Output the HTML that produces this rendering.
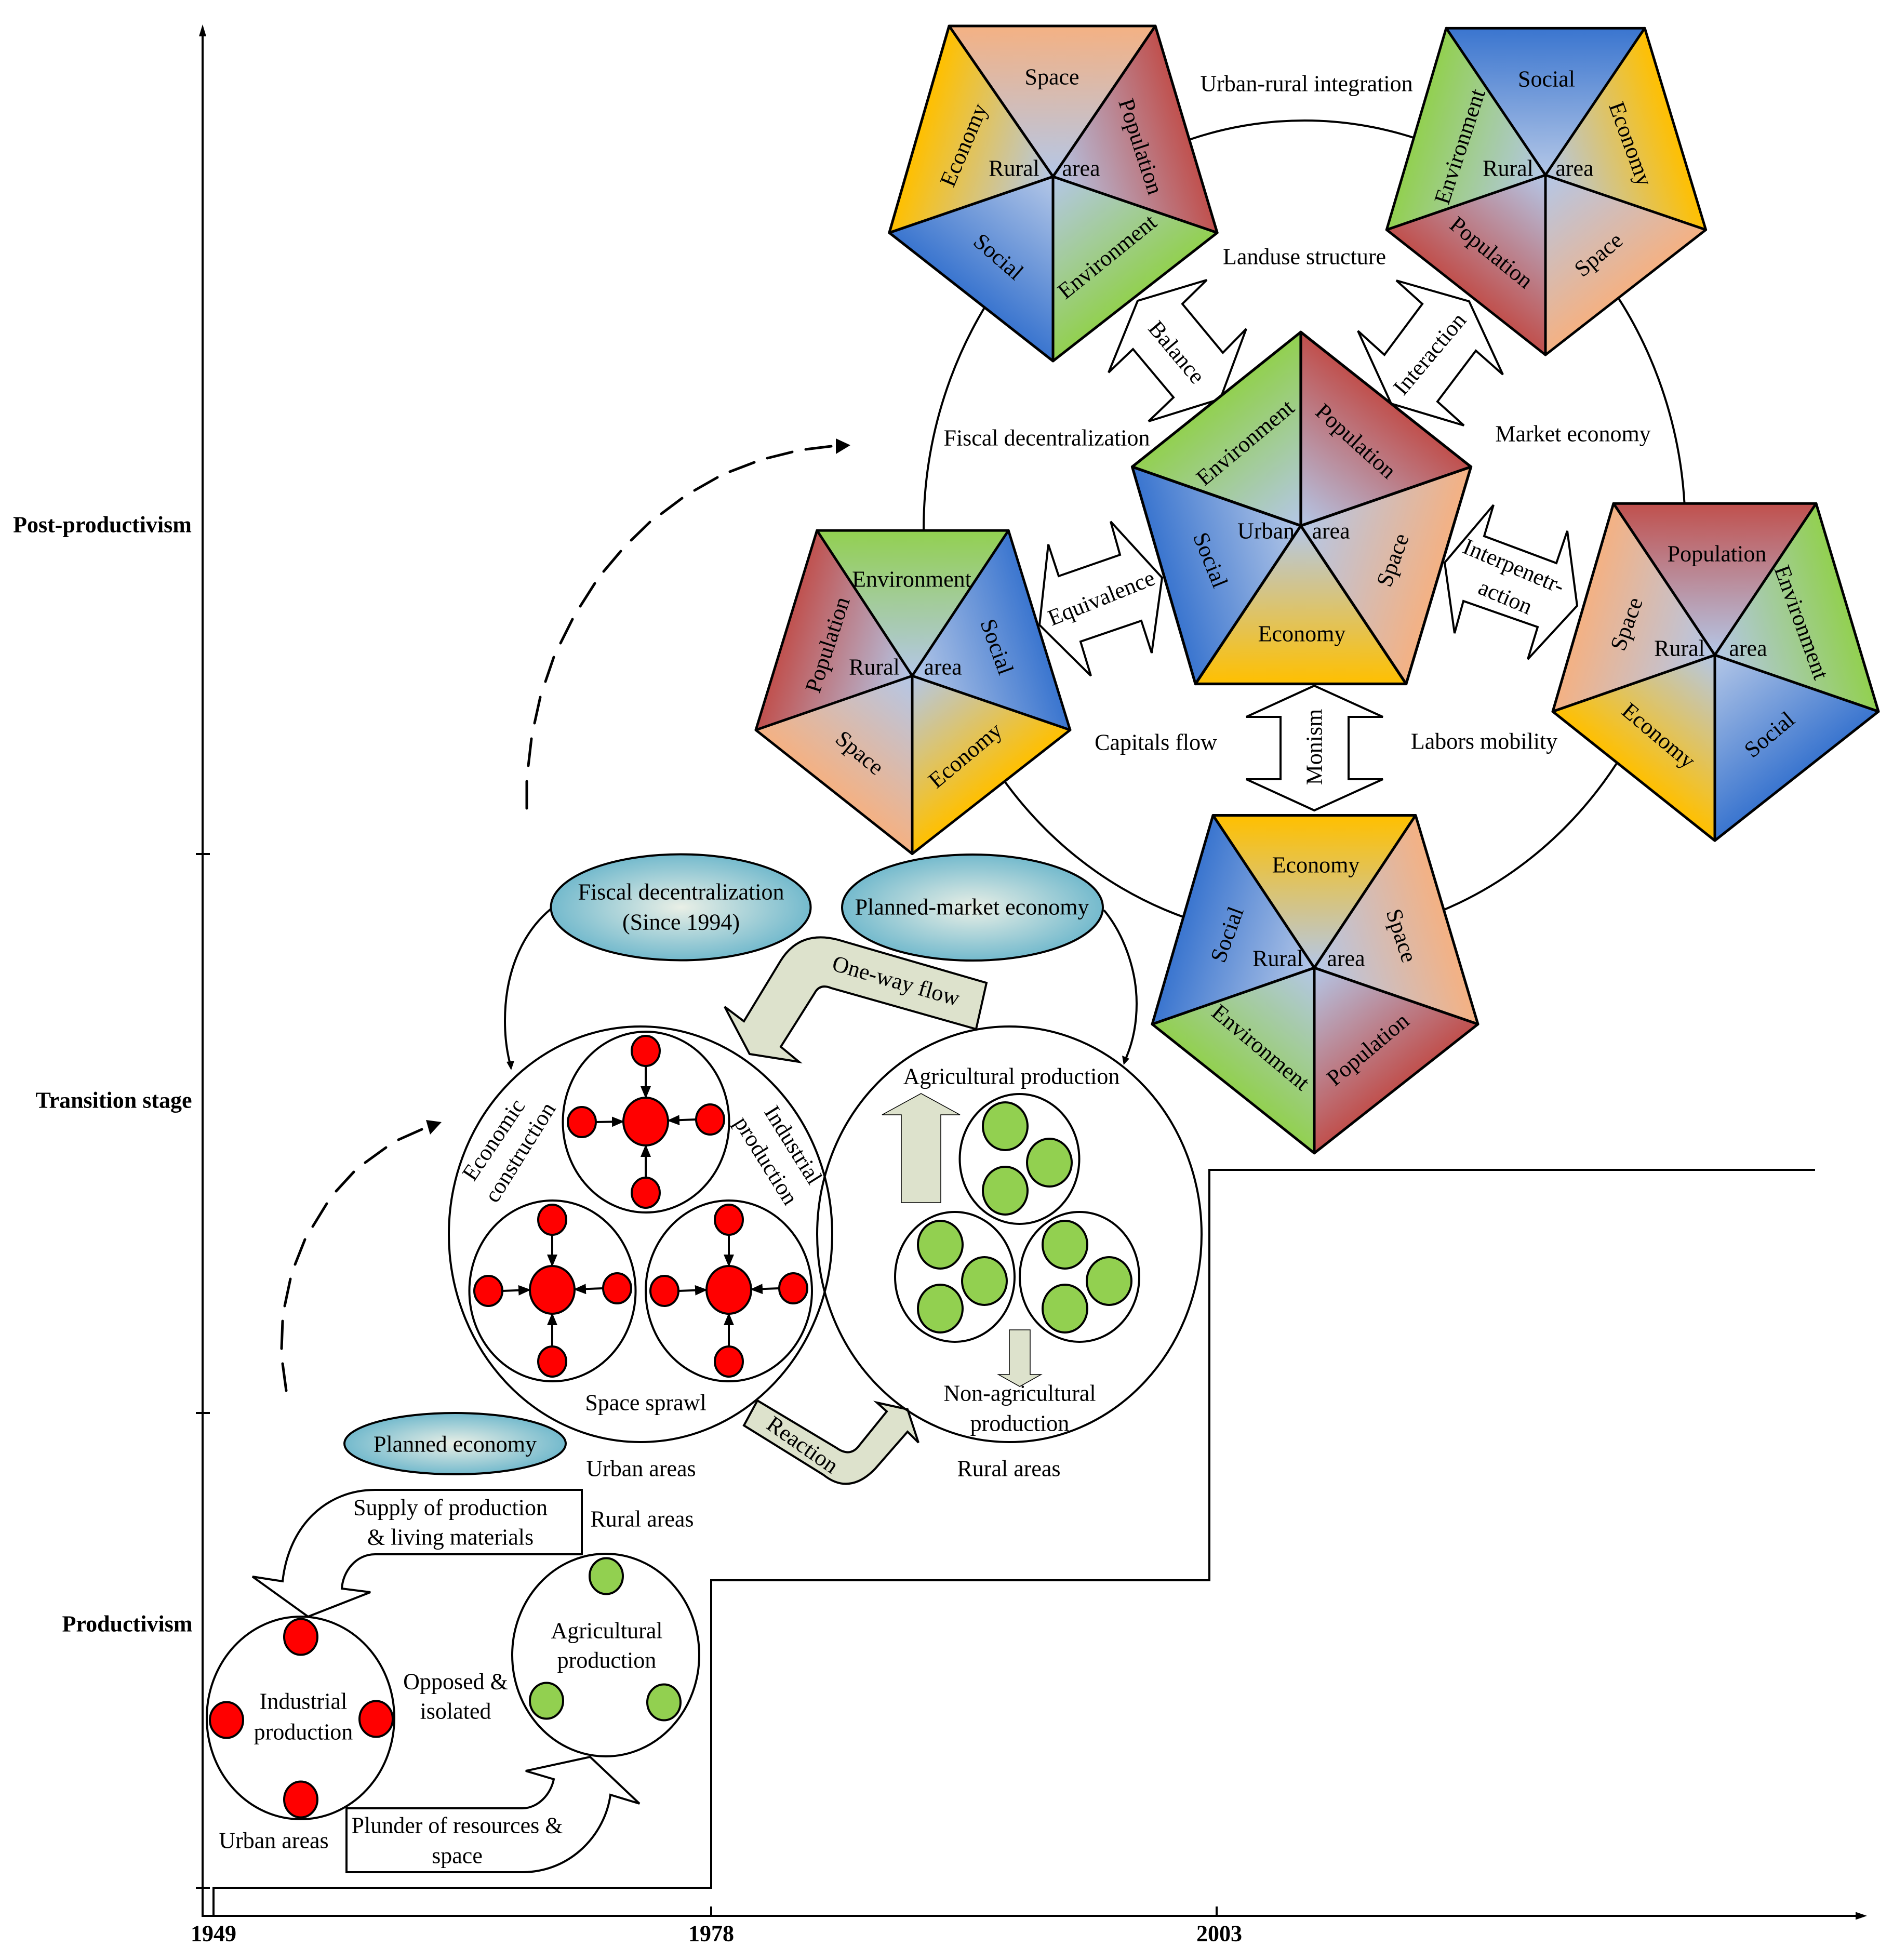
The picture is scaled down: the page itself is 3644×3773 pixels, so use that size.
<!DOCTYPE html>
<html><head><meta charset="utf-8"><style>
html,body{margin:0;padding:0;background:#fff}
svg{display:block}
text{font-family:"Liberation Serif",serif;font-size:44px;text-anchor:middle;dominant-baseline:central;fill:#000}
.b{font-weight:bold}
.w{fill:#fff;stroke:#000;stroke-width:4;stroke-linejoin:miter}
.n{fill:none;stroke:#000;stroke-width:4}
.s{fill:#dde2cc;stroke:#000;stroke-width:4}
.r{fill:#f00;stroke:#000;stroke-width:4}
.g{fill:#92d050;stroke:#000;stroke-width:4}
.a{fill:none;stroke:#000;stroke-width:4;marker-end:url(#ah)}
.p polygon{stroke:#000;stroke-width:5;stroke-linejoin:round}
.d{fill:none;stroke:#000;stroke-width:5;stroke-linecap:round}
</style></head><body>
<svg xmlns="http://www.w3.org/2000/svg" width="3644" height="3773" viewBox="0 0 3644 3773">
<defs>
<marker id="ah" markerUnits="userSpaceOnUse" markerWidth="24" markerHeight="20" refX="22" refY="10" orient="auto"><path d="M0 0L24 10L0 20Z" fill="#000"/></marker>
<radialGradient id="tl" cx=".5" cy=".5" r=".5"><stop offset="0" stop-color="#e9efe6"/><stop offset="1" stop-color="#74bacd"/></radialGradient>

<linearGradient id="TSpa" gradientUnits="userSpaceOnUse" x1="0" y1="-290" x2="0" y2="0"><stop offset="0" stop-color="#f4b183"/><stop offset="1" stop-color="#b4c7e7"/></linearGradient>
<linearGradient id="TSoc" gradientUnits="userSpaceOnUse" x1="0" y1="-290" x2="0" y2="0"><stop offset="0" stop-color="#3a75cf"/><stop offset="1" stop-color="#b4c7e7"/></linearGradient>
<linearGradient id="TEnv" gradientUnits="userSpaceOnUse" x1="0" y1="-290" x2="0" y2="0"><stop offset="0" stop-color="#92d050"/><stop offset="1" stop-color="#b4c7e7"/></linearGradient>
<linearGradient id="TPop" gradientUnits="userSpaceOnUse" x1="0" y1="-290" x2="0" y2="0"><stop offset="0" stop-color="#c0504d"/><stop offset="1" stop-color="#b4c7e7"/></linearGradient>
<linearGradient id="TEco" gradientUnits="userSpaceOnUse" x1="0" y1="-290" x2="0" y2="0"><stop offset="0" stop-color="#ffc000"/><stop offset="1" stop-color="#b4c7e7"/></linearGradient>

<linearGradient id="RPop" gradientUnits="userSpaceOnUse" x1="259" y1="-78" x2="0" y2="0"><stop offset="0" stop-color="#c0504d"/><stop offset="1" stop-color="#b4c7e7"/></linearGradient>
<linearGradient id="REco" gradientUnits="userSpaceOnUse" x1="259" y1="-78" x2="0" y2="0"><stop offset="0" stop-color="#ffc000"/><stop offset="1" stop-color="#b4c7e7"/></linearGradient>
<linearGradient id="RSoc" gradientUnits="userSpaceOnUse" x1="259" y1="-78" x2="0" y2="0"><stop offset="0" stop-color="#3a75cf"/><stop offset="1" stop-color="#b4c7e7"/></linearGradient>
<linearGradient id="REnv" gradientUnits="userSpaceOnUse" x1="259" y1="-78" x2="0" y2="0"><stop offset="0" stop-color="#92d050"/><stop offset="1" stop-color="#b4c7e7"/></linearGradient>
<linearGradient id="RSpa" gradientUnits="userSpaceOnUse" x1="259" y1="-78" x2="0" y2="0"><stop offset="0" stop-color="#f4b183"/><stop offset="1" stop-color="#b4c7e7"/></linearGradient>

<linearGradient id="BREnv" gradientUnits="userSpaceOnUse" x1="172" y1="220" x2="0" y2="0"><stop offset="0" stop-color="#92d050"/><stop offset="1" stop-color="#b4c7e7"/></linearGradient>
<linearGradient id="BRSpa" gradientUnits="userSpaceOnUse" x1="172" y1="220" x2="0" y2="0"><stop offset="0" stop-color="#f4b183"/><stop offset="1" stop-color="#b4c7e7"/></linearGradient>
<linearGradient id="BREco" gradientUnits="userSpaceOnUse" x1="172" y1="220" x2="0" y2="0"><stop offset="0" stop-color="#ffc000"/><stop offset="1" stop-color="#b4c7e7"/></linearGradient>
<linearGradient id="BRSoc" gradientUnits="userSpaceOnUse" x1="172" y1="220" x2="0" y2="0"><stop offset="0" stop-color="#3a75cf"/><stop offset="1" stop-color="#b4c7e7"/></linearGradient>
<linearGradient id="BRPop" gradientUnits="userSpaceOnUse" x1="172" y1="220" x2="0" y2="0"><stop offset="0" stop-color="#c0504d"/><stop offset="1" stop-color="#b4c7e7"/></linearGradient>

<linearGradient id="BLSoc" gradientUnits="userSpaceOnUse" x1="-173" y1="218" x2="0" y2="0"><stop offset="0" stop-color="#3a75cf"/><stop offset="1" stop-color="#b4c7e7"/></linearGradient>
<linearGradient id="BLPop" gradientUnits="userSpaceOnUse" x1="-173" y1="218" x2="0" y2="0"><stop offset="0" stop-color="#c0504d"/><stop offset="1" stop-color="#b4c7e7"/></linearGradient>
<linearGradient id="BLSpa" gradientUnits="userSpaceOnUse" x1="-173" y1="218" x2="0" y2="0"><stop offset="0" stop-color="#f4b183"/><stop offset="1" stop-color="#b4c7e7"/></linearGradient>
<linearGradient id="BLEco" gradientUnits="userSpaceOnUse" x1="-173" y1="218" x2="0" y2="0"><stop offset="0" stop-color="#ffc000"/><stop offset="1" stop-color="#b4c7e7"/></linearGradient>
<linearGradient id="BLEnv" gradientUnits="userSpaceOnUse" x1="-173" y1="218" x2="0" y2="0"><stop offset="0" stop-color="#92d050"/><stop offset="1" stop-color="#b4c7e7"/></linearGradient>

<linearGradient id="LEco" gradientUnits="userSpaceOnUse" x1="-258" y1="-76" x2="0" y2="0"><stop offset="0" stop-color="#ffc000"/><stop offset="1" stop-color="#b4c7e7"/></linearGradient>
<linearGradient id="LEnv" gradientUnits="userSpaceOnUse" x1="-258" y1="-76" x2="0" y2="0"><stop offset="0" stop-color="#92d050"/><stop offset="1" stop-color="#b4c7e7"/></linearGradient>
<linearGradient id="LPop" gradientUnits="userSpaceOnUse" x1="-258" y1="-76" x2="0" y2="0"><stop offset="0" stop-color="#c0504d"/><stop offset="1" stop-color="#b4c7e7"/></linearGradient>
<linearGradient id="LSpa" gradientUnits="userSpaceOnUse" x1="-258" y1="-76" x2="0" y2="0"><stop offset="0" stop-color="#f4b183"/><stop offset="1" stop-color="#b4c7e7"/></linearGradient>
<linearGradient id="LSoc" gradientUnits="userSpaceOnUse" x1="-258" y1="-76" x2="0" y2="0"><stop offset="0" stop-color="#3a75cf"/><stop offset="1" stop-color="#b4c7e7"/></linearGradient>
</defs>

<!-- axes -->
<path class="n" d="M390 60V3688H3575"/>
<path d="M390 47L383 70H397Z M3594 3688L3572 3680.500V3695.500Z" fill="#000"/>
<path class="n" d="M377 1644H404M377 2720H404M377 3634H404M411 3670V3688M1369 3670V3688M2342 3670V3688"/>
<path class="n" d="M411 3670V3634H1369V3042H2328V2252H3494"/>

<!-- big ring -->
<ellipse class="n" cx="2511" cy="1019" rx="733" ry="787"/>

<!-- dashed trends -->
<path class="d" d="M1014 1556L1014 1504M1017 1474L1023 1422M1029 1392L1040 1342M1050 1312L1066 1265M1079 1238L1102 1192M1117 1167L1145 1123M1162 1100L1195 1061M1215 1040L1251 1005M1273 989L1313 959M1337 944L1381 919M1405 908L1452 890M1477 882L1525 870M1551 865L1600 859"/>
<path d="M1609 844L1637 857L1609 874Z" fill="#000"/>
<path class="d" d="M551 2677L544 2625M542 2596L544 2543M548 2514L559 2462M568 2434L587 2386M602 2361L629 2317M647 2293L681 2256M703 2238L743 2209M767 2194L812 2174"/>
<path d="M820 2156L850 2160L828 2184Z" fill="#000"/>

<!-- double arrows -->
<polygon class="w" points="2323,539 2190,579 2134,717 2181,672 2259,765 2211,811 2349,768 2399,633 2354,679 2276,585"/>
<polygon class="w" points="2688,540 2828,580 2893,721 2841,675 2767,773 2818,819 2678,777 2614,637 2665,683 2738,585"/>
<polygon class="w" points="2138,1004 2237,1112 2217,1257 2197,1195 2080,1235 2100,1301 2001,1203 2018,1048 2038,1109 2156,1068"/>
<polygon class="w" points="2875,972 2781,1083 2800,1219 2817,1157 2960,1207 2941,1269 3036,1166 3017,1022 2996,1084 2857,1032"/>
<polygon class="w" points="2530,1320 2662,1380 2596,1380 2596,1500 2662,1500 2530,1560 2399,1500 2465,1500 2465,1380 2399,1380"/>

<!-- pentagons -->
<g class="p" transform="translate(2027,340) scale(1.01,1)">
<polygon points="0,0 -198,-290 195,-290" fill="url(#TSpa)"/><polygon points="0,0 195,-290 313,108" fill="url(#RPop)"/><polygon points="0,0 313,108 0,355" fill="url(#BREnv)"/><polygon points="0,0 0,355 -312,108" fill="url(#BLSoc)"/><polygon points="0,0 -312,108 -198,-290" fill="url(#LEco)"/>
</g>
<g class="p" transform="translate(2975,337) scale(.98,.975)">
<polygon points="0,0 -195,-290 195,-290" fill="url(#TSoc)"/><polygon points="0,0 195,-290 315,108" fill="url(#REco)"/><polygon points="0,0 315,108 0,355" fill="url(#BRSpa)"/><polygon points="0,0 0,355 -312,108" fill="url(#BLPop)"/><polygon points="0,0 -312,108 -195,-290" fill="url(#LEnv)"/>
</g>
<g class="p" transform="translate(1756,1301) scale(.965,.965)">
<polygon points="0,0 -190,-290 192,-290" fill="url(#TEnv)"/><polygon points="0,0 192,-290 315,108" fill="url(#RSoc)"/><polygon points="0,0 315,108 0,355" fill="url(#BREco)"/><polygon points="0,0 0,355 -312,108" fill="url(#BLSpa)"/><polygon points="0,0 -312,108 -190,-290" fill="url(#LPop)"/>
</g>
<g class="p" transform="translate(3301,1261) scale(1,1.006)">
<polygon points="0,0 -195,-290 195,-290" fill="url(#TPop)"/><polygon points="0,0 195,-290 315,108" fill="url(#REnv)"/><polygon points="0,0 315,108 0,355" fill="url(#BRSoc)"/><polygon points="0,0 0,355 -312,108" fill="url(#BLEco)"/><polygon points="0,0 -312,108 -195,-290" fill="url(#LSpa)"/>
</g>
<g class="p" transform="translate(2530,1863) scale(1,1.005)">
<polygon points="0,0 -195,-292 195,-292" fill="url(#TEco)"/><polygon points="0,0 195,-292 315,108" fill="url(#RSpa)"/><polygon points="0,0 315,108 0,355" fill="url(#BRPop)"/><polygon points="0,0 0,355 -312,108" fill="url(#BLEnv)"/><polygon points="0,0 -312,108 -195,-292" fill="url(#LSoc)"/>
</g>
<g class="p" transform="translate(2504,1012) scale(1.04,-1.05)">
<polygon points="0,0 -195,-290 195,-290" fill="url(#TEco)"/><polygon points="0,0 195,-290 315,108" fill="url(#RSpa)"/><polygon points="0,0 315,108 0,355" fill="url(#BRPop)"/><polygon points="0,0 0,355 -312,108" fill="url(#BLEnv)"/><polygon points="0,0 -312,108 -195,-290" fill="url(#LSoc)"/>
</g>

<!-- teal ellipses -->
<ellipse cx="1310.500" cy="1746.500" rx="250" ry="102" fill="url(#tl)" stroke="#000" stroke-width="4"/>
<ellipse cx="1872" cy="1747" rx="251" ry="102" fill="url(#tl)" stroke="#000" stroke-width="4"/>
<ellipse cx="876" cy="2779" rx="213" ry="59" fill="url(#tl)" stroke="#000" stroke-width="4"/>

<!-- curved links -->
<path class="n" d="M1060 1750C1000 1800 972 1880 972 1965Q972 2010 982 2048"/>
<path d="M975 2044L990 2042L984 2060Z" fill="#000"/>
<path class="n" d="M2125 1752C2165 1800 2188 1870 2188 1932Q2188 1990 2167 2038"/>
<path d="M2160 2032L2174 2038L2163 2050Z" fill="#000"/>

<!-- flow arrows -->
<path class="s" d="M1899 1892L1879 1981L1600 1902Q1578 1893 1568 1912L1503 2015L1538 2044L1443 2029L1395 1938L1432 1966L1503 1849Q1540 1790 1613 1809Z"/>
<path class="s" d="M1458 2696L1610 2787Q1635 2805 1652 2785L1707 2717L1688 2700L1747 2713L1768 2777L1747 2756L1685 2827Q1635 2879 1585 2839L1432 2744Z"/>

<!-- urban / rural -->
<ellipse class="n" cx="1233" cy="2376" rx="369" ry="400"/>
<ellipse class="n" cx="1943" cy="2376" rx="370" ry="400"/>

<ellipse class="n" cx="1243.500" cy="2160" rx="160" ry="174"/>
<ellipse class="n" cx="1063.500" cy="2485" rx="160" ry="174"/>
<ellipse class="n" cx="1403" cy="2485" rx="160" ry="174"/>

<g>
<path class="a" d="M1243 2052V2113"/><path class="a" d="M1147 2160L1200 2159"/><path class="a" d="M1340 2155L1286 2157"/><path class="a" d="M1243 2267V2205"/>
<ellipse class="r" cx="1243" cy="2159" rx="43" ry="46"/><ellipse class="r" cx="1243" cy="2023" rx="27" ry="29"/><ellipse class="r" cx="1367" cy="2155" rx="27" ry="29"/><ellipse class="r" cx="1120" cy="2160" rx="27" ry="29"/><ellipse class="r" cx="1243" cy="2296" rx="27" ry="29"/>
<path class="a" d="M1063 2377V2437"/><path class="a" d="M967 2485L1020 2483"/><path class="a" d="M1161 2480L1106 2482"/><path class="a" d="M1063 2592V2529"/>
<ellipse class="r" cx="1063" cy="2483" rx="43" ry="46"/><ellipse class="r" cx="1063" cy="2348" rx="27" ry="29"/><ellipse class="r" cx="940" cy="2485" rx="27" ry="29"/><ellipse class="r" cx="1188" cy="2480" rx="27" ry="29"/><ellipse class="r" cx="1063" cy="2621" rx="27" ry="29"/>
<path class="a" d="M1403 2377V2437"/><path class="a" d="M1306 2485L1360 2483"/><path class="a" d="M1500 2480L1446 2482"/><path class="a" d="M1403 2592V2529"/>
<ellipse class="r" cx="1403" cy="2483" rx="43" ry="46"/><ellipse class="r" cx="1403" cy="2348" rx="27" ry="29"/><ellipse class="r" cx="1279" cy="2485" rx="27" ry="29"/><ellipse class="r" cx="1527" cy="2480" rx="27" ry="29"/><ellipse class="r" cx="1403" cy="2621" rx="27" ry="29"/>
</g>

<ellipse class="n" cx="1962.500" cy="2231" rx="115" ry="125"/>
<ellipse class="n" cx="1838" cy="2458" rx="115" ry="125"/>
<ellipse class="n" cx="2078" cy="2458" rx="115" ry="125"/>
<ellipse class="g" cx="1935" cy="2168" rx="43" ry="46"/><ellipse class="g" cx="2020" cy="2238" rx="43" ry="46"/><ellipse class="g" cx="1935" cy="2292" rx="43" ry="46"/>
<ellipse class="g" cx="1810" cy="2396" rx="43" ry="46"/><ellipse class="g" cx="1895" cy="2466" rx="43" ry="46"/><ellipse class="g" cx="1810" cy="2519" rx="43" ry="46"/>
<ellipse class="g" cx="2050" cy="2396" rx="43" ry="46"/><ellipse class="g" cx="2135" cy="2466" rx="43" ry="46"/><ellipse class="g" cx="2050" cy="2519" rx="43" ry="46"/>

<polygon points="1773,2105 1848,2146 1811,2146 1811,2315 1735,2315 1735,2146 1698,2146" fill="#dde2cc" stroke="#000" stroke-width="1.500"/>
<polygon points="1943,2560 1983,2560 1983,2646 2004,2646 1963,2669 1922,2646 1943,2646" fill="#dde2cc" stroke="#000" stroke-width="1.500"/>

<!-- productivism stage -->
<path class="w" d="M1120 2868V2992H722C685 2992 660 3025 658 3058L713 3065L593 3112L486 3035L544 3044C556 2935 630 2868 722 2868Z"/>
<path class="w" d="M667 3481V3604H1005C1100 3604 1165 3530 1175 3455L1231 3472L1136 3382L1012 3409L1066 3425C1060 3455 1035 3481 1005 3481Z"/>
<ellipse class="n" cx="578.500" cy="3307" rx="180.500" ry="195" style="fill:#fff"/>
<ellipse class="n" cx="1166" cy="3186" rx="180" ry="195" style="fill:#fff"/>
<ellipse class="r" cx="579" cy="3151" rx="32" ry="34.500"/><ellipse class="r" cx="436" cy="3311" rx="32" ry="34.500"/><ellipse class="r" cx="724" cy="3309" rx="32" ry="34.500"/><ellipse class="r" cx="579" cy="3464" rx="32" ry="34.500"/>
<ellipse class="g" cx="1167" cy="3034" rx="32" ry="34.500"/><ellipse class="g" cx="1052" cy="3274" rx="32" ry="34.500"/><ellipse class="g" cx="1278" cy="3277" rx="32" ry="34.500"/>

<!-- labels: pentagon 1 -->
<text x="2025" y="148">Space</text>
<text x="2196" y="282" transform="rotate(72 2196 282)">Population</text>
<text x="1855" y="279" transform="rotate(-67 1855 279)">Economy</text>
<text x="1952" y="324">Rural</text><text x="2081" y="324">area</text>
<text x="1922" y="494" transform="rotate(41 1922 494)">Social</text>
<text x="2131" y="494" transform="rotate(-39 2131 494)">Environment</text>
<!-- pentagon 2 -->
<text x="2977" y="152">Social</text>
<text x="3139" y="277" transform="rotate(70 3139 277)">Economy</text>
<text x="2810" y="282" transform="rotate(-72 2810 282)">Environment</text>
<text x="2903" y="324">Rural</text><text x="3031" y="324">area</text>
<text x="2871" y="486" transform="rotate(39 2871 486)">Population</text>
<text x="3077" y="490" transform="rotate(-40 3077 490)">Space</text>
<!-- central -->
<text x="2397" y="852" transform="rotate(-40 2397 852)">Environment</text>
<text x="2610" y="849" transform="rotate(42 2610 849)">Population</text>
<text x="2437" y="1022">Urban</text><text x="2562" y="1022">area</text>
<text x="2330" y="1078" transform="rotate(68 2330 1078)">Social</text>
<text x="2681" y="1078" transform="rotate(-70 2681 1078)">Space</text>
<text x="2506" y="1220">Economy</text>
<!-- left -->
<text x="1755" y="1115">Environment</text>
<text x="1919" y="1245" transform="rotate(70 1919 1245)">Social</text>
<text x="1593" y="1241" transform="rotate(-72 1593 1241)">Population</text>
<text x="1683" y="1284">Rural</text><text x="1815" y="1284">area</text>
<text x="1655" y="1449" transform="rotate(40 1655 1449)">Space</text>
<text x="1858" y="1454" transform="rotate(-40 1858 1454)">Economy</text>
<!-- right -->
<text x="3305" y="1066">Population</text>
<text x="3468" y="1198" transform="rotate(70 3468 1198)">Environment</text>
<text x="3131" y="1201" transform="rotate(-70 3131 1201)">Space</text>
<text x="3233" y="1248">Rural</text><text x="3365" y="1248">area</text>
<text x="3193" y="1416" transform="rotate(40 3193 1416)">Economy</text>
<text x="3406" y="1414" transform="rotate(-40 3406 1414)">Social</text>
<!-- bottom -->
<text x="2533" y="1665">Economy</text>
<text x="2698" y="1801" transform="rotate(72 2698 1801)">Space</text>
<text x="2362" y="1799" transform="rotate(-70 2362 1799)">Social</text>
<text x="2460" y="1845">Rural</text><text x="2591" y="1845">area</text>
<text x="2427" y="2016" transform="rotate(40 2427 2016)">Environment</text>
<text x="2633" y="2020" transform="rotate(-40 2633 2020)">Population</text>

<!-- ring labels -->
<text x="2515" y="161">Urban-rural integration</text>
<text x="2511" y="494">Landuse structure</text>
<text x="2015" y="843">Fiscal decentralization</text>
<text x="3028" y="835">Market economy</text>
<text x="2265" y="678" transform="rotate(50 2265 678)">Balance</text>
<text x="2752" y="681" transform="rotate(-50 2752 681)">Interaction</text>
<text x="2120" y="1151" transform="rotate(-22 2120 1151)">Equivalence</text>
<text x="2914" y="1090" transform="rotate(23 2914 1090)">Interpenetr-</text>
<text x="2898" y="1149" transform="rotate(23 2898 1149)">action</text>
<text x="2530" y="1438" transform="rotate(-90 2530 1438)">Monism</text>
<text x="2225" y="1429">Capitals flow</text>
<text x="2857" y="1427">Labors mobility</text>

<!-- transition labels -->
<text x="1311" y="1717">Fiscal decentralization</text>
<text x="1311" y="1775">(Since 1994)</text>
<text x="1871" y="1746">Planned-market economy</text>
<text x="1725" y="1888" transform="rotate(16 1725 1888)">One-way flow</text>
<text x="1545" y="2781" transform="rotate(35 1545 2781)">Reaction</text>
<text x="950" y="2194" transform="rotate(-56 950 2194)">Economic</text>
<text x="1001" y="2218" transform="rotate(-58 1001 2218)">construction</text>
<text x="1527" y="2204" transform="rotate(58 1527 2204)">Industrial</text>
<text x="1475" y="2234" transform="rotate(58 1475 2234)">production</text>
<text x="1947" y="2072">Agricultural production</text>
<text x="1243" y="2700">Space sprawl</text>
<text x="1234" y="2827">Urban areas</text>
<text x="1942" y="2827">Rural areas</text>
<text x="1963" y="2682">Non-agricultural</text>
<text x="1963" y="2740">production</text>

<!-- productivism labels -->
<text x="876" y="2780">Planned economy</text>
<text x="867" y="2902">Supply of production</text>
<text x="867" y="2959">&amp; living materials</text>
<text x="1236" y="2924">Rural areas</text>
<text x="584" y="3275">Industrial</text>
<text x="584" y="3334">production</text>
<text x="877" y="3237">Opposed &amp;</text>
<text x="877" y="3294">isolated</text>
<text x="1168" y="3139">Agricultural</text>
<text x="1168" y="3196">production</text>
<text x="527" y="3543">Urban areas</text>
<text x="880" y="3514">Plunder of resources &amp;</text>
<text x="880" y="3572">space</text>

<!-- stages -->
<text class="b" x="197" y="1010">Post-productivism</text>
<text class="b" x="219" y="2118">Transition stage</text>
<text class="b" x="245" y="3126">Productivism</text>
<text class="b" x="411" y="3722">1949</text>
<text class="b" x="1369" y="3722">1978</text>
<text class="b" x="2347" y="3722">2003</text>
</svg>
</body></html>
